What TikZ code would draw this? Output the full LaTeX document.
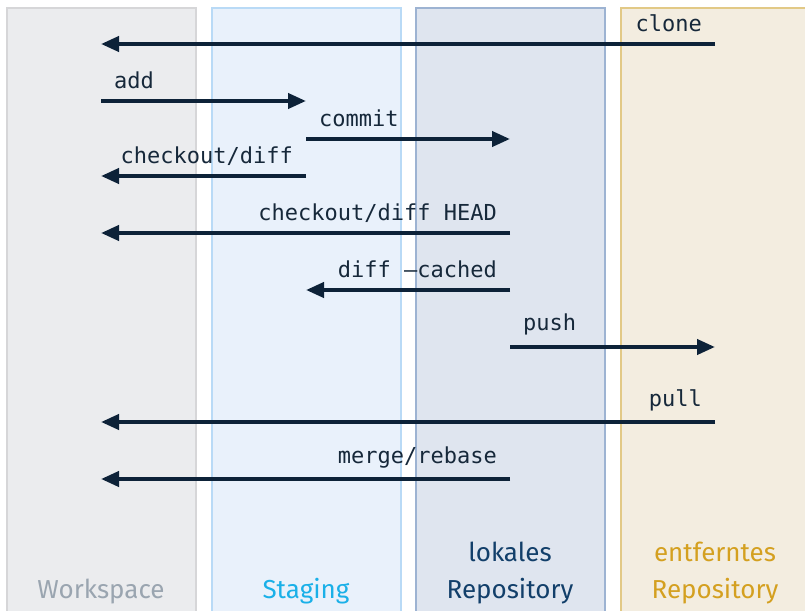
\documentclass[tikz,border=0pt]{standalone}
\usepackage{fontspec}
\setmainfont{Fira Sans}
\setmonofont{DejaVu Sans Mono}
\usetikzlibrary{arrows.meta}

\definecolor{wsfill}{HTML}{EBECEE}
\definecolor{wsline}{HTML}{D6D6D8}
\definecolor{wstext}{HTML}{9AA5B0}
\definecolor{stfill}{HTML}{E9F1FB}
\definecolor{stline}{HTML}{B9DAF6}
\definecolor{sttext}{HTML}{1AB0E8}
\definecolor{lrfill}{HTML}{DFE5EF}
\definecolor{lrline}{HTML}{9DB3D2}
\definecolor{lrtext}{HTML}{123F6A}
\definecolor{rrfill}{HTML}{F3EDE0}
\definecolor{rrline}{HTML}{E2C986}
\definecolor{rrtext}{HTML}{D4A020}
\definecolor{flowcol}{HTML}{0D2238}
\definecolor{cmdcol}{HTML}{16283A}

\begin{document}
\begin{tikzpicture}[x=1pt,y=-1pt,
  lane/.style={draw, line width=2pt, minimum width=189pt, minimum height=640pt,
    anchor=north west, inner sep=0pt},
  flow/.style={draw=flowcol, line width=4pt,
    -{Triangle[length=18pt,width=15pt]}},
  cmd/.style={font=\ttfamily\fontsize{22}{24}\selectfont, text=cmdcol, inner sep=0pt},
  title/.style={font=\fontsize{26}{37}\selectfont, align=center, inner sep=0pt}
]
\useasboundingbox (0,0) rectangle (805,610);
\clip (0,0) rectangle (805,610);

% the four areas
\node[lane, fill=wsfill, draw=wsline] (ws) at (6,7) {};
\node[lane, fill=stfill, draw=stline] (st) at (211,7) {};
\node[lane, fill=lrfill, draw=lrline] (lr) at (415,7) {};
\node[lane, fill=rrfill, draw=rrline] (rr) at (620,7) {};

% area titles
\node[title, text=wstext, anchor=base] (wst) at (101,598) {Workspace};
\node[title, text=sttext, anchor=base] (stt) at (306,598) {Staging};
\node[title, text=lrtext, anchor=base] (lrt) at (510,598) {Repository};
\node[title, text=lrtext, anchor=base] (lrt2) at (510,561) {lokales};
\node[title, text=rrtext, anchor=base] (rrt) at (715,598) {Repository};
\node[title, text=rrtext, anchor=base] (rrt2) at (715,561) {entferntes};

% lane positions
\def\xW{101}\def\xS{306}\def\xL{510}\def\xR{715}

% clone
\coordinate (c1a) at (\xR,44); \coordinate (c1b) at (\xW,44);
\draw[flow] (c1a) -- (c1b);
\node[cmd, anchor=base east] (l1) at (\xR-13,32) {clone};
% add
\coordinate (c2a) at (\xW,101); \coordinate (c2b) at (\xS,101);
\draw[flow] (c2a) -- (c2b);
\node[cmd, anchor=base west] (l2) at (\xW+13,88) {add};
% commit
\coordinate (c3a) at (\xS,139); \coordinate (c3b) at (\xL,139);
\draw[flow] (c3a) -- (c3b);
\node[cmd, anchor=base west] (l3) at (\xS+13,126) {commit};
% checkout/diff
\coordinate (c4a) at (\xS,176); \coordinate (c4b) at (\xW,176);
\draw[flow] (c4a) -- (c4b);
\node[cmd, anchor=base east] (l4) at (\xS-13,163) {checkout/diff};
% checkout/diff HEAD
\coordinate (c5a) at (\xL,233); \coordinate (c5b) at (\xW,233);
\draw[flow] (c5a) -- (c5b);
\node[cmd, anchor=base east] (l5) at (\xL-13,220) {checkout/diff HEAD};
% diff --cached
\coordinate (c6a) at (\xL,290); \coordinate (c6b) at (\xS,290);
\draw[flow] (c6a) -- (c6b);
\node[cmd, anchor=base east] (l6) at (\xL-13,277) {diff –cached};
% push
\coordinate (c7a) at (\xL,347); \coordinate (c7b) at (\xR,347);
\draw[flow] (c7a) -- (c7b);
\node[cmd, anchor=base west] (l7) at (\xL+13,330) {push};
% pull
\coordinate (c8a) at (\xR,422); \coordinate (c8b) at (\xW,422);
\draw[flow] (c8a) -- (c8b);
\node[cmd, anchor=base east] (l8) at (\xR-13,406) {pull};
% merge/rebase
\coordinate (c9a) at (\xL,479); \coordinate (c9b) at (\xW,479);
\draw[flow] (c9a) -- (c9b);
\node[cmd, anchor=base east] (l9) at (\xL-13,463) {merge/rebase};
\end{tikzpicture}
\end{document}
